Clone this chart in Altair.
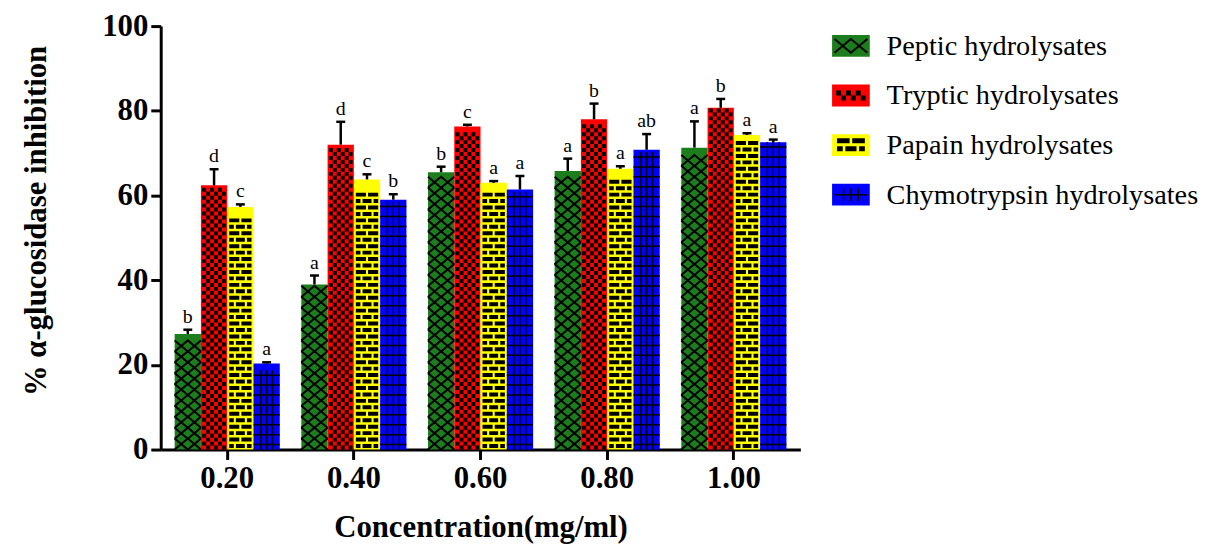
import altair as alt
import pandas as pd

concentrations = ["0.20", "0.40", "0.60", "0.80", "1.00"]
series = ["Peptic hydrolysates", "Tryptic hydrolysates",
          "Papain hydrolysates", "Chymotrypsin hydrolysates"]

peptic = [27.3, 39.0, 65.5, 65.8, 71.3]
peptic_err = [1.0, 2.1, 1.3, 2.9, 6.2]
tryptic = [62.4, 72.0, 76.3, 78.0, 80.7]
tryptic_err = [3.8, 5.4, 0.4, 3.7, 2.1]
papain = [57.3, 63.8, 63.0, 66.3, 74.3]
papain_err = [0.6, 1.2, 0.4, 0.6, 0.4]
chymo = [20.3, 59.0, 61.4, 70.8, 72.6]
chymo_err = [0.3, 1.3, 3.2, 3.7, 0.6]

letters_peptic = ["b", "a", "b", "a", "a"]
letters_tryptic = ["d", "d", "c", "b", "b"]
letters_papain = ["c", "c", "a", "a", "a"]
letters_chymo = ["a", "b", "a", "ab", "a"]

colors = ["#1c7d1c", "#ff0000", "#ffff00", "#0000ff"]

rows = []
for s, vals, errs, lets in zip(
        series,
        [peptic, tryptic, papain, chymo],
        [peptic_err, tryptic_err, papain_err, chymo_err],
        [letters_peptic, letters_tryptic, letters_papain, letters_chymo]):
    for c, v, e, l in zip(concentrations, vals, errs, lets):
        rows.append({"conc": c, "series": s, "value": v, "err": e,
                     "top": v + e, "letter": l})
df = pd.DataFrame(rows)

FONT = "Liberation Serif"
W, H = 645, 427
P_IN, P_OUT = 0.17, 0.11
STEP = W / (len(concentrations) - P_IN + 2 * P_OUT)
BAR = STEP * (1 - P_IN) / len(series)
PX = H / 100.0

PAT = {
    "Peptic hydrolysates": dict(
        path="M-1,-0.42L0,0.42L1,-0.42M-1,0.42L0,-0.42L1,0.42",
        tile=11.0, filled=False, sw=2.0),
    "Tryptic hydrolysates": dict(
        path=("M-0.9,-0.3L-0.6,-0.3L-0.6,0L-0.9,0Z"
              "M-0.3,-0.3L0,-0.3L0,0L-0.3,0Z"
              "M0.3,-0.3L0.6,-0.3L0.6,0L0.3,0Z"
              "M-0.6,0L-0.3,0L-0.3,0.3L-0.6,0.3Z"
              "M0,0L0.3,0L0.3,0.3L0,0.3Z"
              "M0.6,0L0.9,0L0.9,0.3L0.6,0.3Z"),
        tile=8.0, filled=True, sw=0),
    "Papain hydrolysates": dict(
        path=("M-0.85,-0.42L-0.08,-0.42L-0.08,-0.12L-0.85,-0.12Z"
              "M0.08,-0.42L0.85,-0.42L0.85,-0.12L0.08,-0.12Z"
              "M-0.85,0.07L-0.5,0.07L-0.5,0.37L-0.85,0.37Z"
              "M-0.34,0.07L0.34,0.07L0.34,0.37L-0.34,0.37Z"
              "M0.5,0.07L0.85,0.07L0.85,0.37L0.5,0.37Z"),
        tile=13.0, filled=True, sw=0),
    "Chymotrypsin hydrolysates": dict(
        path=("M-1,0L1,0M-0.45,-0.38L-0.45,0.38M0,-0.38L0,0.38"
              "M0.45,-0.38L0.45,0.38"),
        tile=10.0, filled=False, sw=1.5),
}

AX_COMMON = dict(labelFont=FONT, labelFontSize=31, labelFontWeight="bold",
                 labelColor="black", titleFont=FONT, titleFontSize=31,
                 titleFontWeight="bold", titleColor="black",
                 tickSize=10, tickWidth=3, tickColor="black",
                 domainWidth=3, domainColor="black", grid=False)

x_enc = alt.X("conc:N", sort=concentrations,
              scale=alt.Scale(domain=concentrations, paddingInner=P_IN, paddingOuter=P_OUT),
              axis=alt.Axis(title="Concentration(mg/ml)", labelAngle=0,
                            labelPadding=4, titlePadding=20, **AX_COMMON))
xo_enc = alt.XOffset("series:N", sort=series,
                     scale=alt.Scale(domain=series, paddingInner=0, paddingOuter=0))
y_scale = alt.Scale(domain=[0, 100])
y_axis = alt.Axis(title="% α-glucosidase inhibition", values=[0, 20, 40, 60, 80, 100],
                  labelPadding=3, titlePadding=50, titleY=196, **AX_COMMON)


def Y(field):
    return alt.Y(field, scale=y_scale, axis=y_axis, title="% α-glucosidase inhibition")


fill_enc = alt.Color("series:N", scale=alt.Scale(domain=series, range=colors), legend=None)

base = alt.Chart(df)

bars = base.mark_bar().encode(x=x_enc, xOffset=xo_enc, y=Y("value:Q"), color=fill_enc)

layers = [bars]
for s in series:
    p = PAT[s]
    h = p["tile"] / PX
    expr = f"sequence({h/2:.4f}, datum.value - {h/2:.4f} + 0.0001, {h:.4f})"
    mk = dict(shape=p["path"], size=BAR ** 2, opacity=1)
    if p["filled"]:
        mk.update(filled=True, color="black", strokeWidth=0)
    else:
        mk.update(filled=False, color="black", strokeWidth=p["sw"])
    layers.append(
        base.transform_filter(alt.datum.series == s)
        .transform_calculate(t=expr)
        .transform_flatten(["t"])
        .mark_point(**mk)
        .encode(x=x_enc, xOffset=xo_enc, y=Y("t:Q"))
    )

err_rule = base.mark_rule(color="black", strokeWidth=2.5).encode(
    x=x_enc, xOffset=xo_enc, y=Y("value:Q"), y2="top:Q")
err_cap = base.mark_tick(color="black", thickness=2.5, size=9, opacity=1).encode(
    x=x_enc, xOffset=xo_enc, y=Y("top:Q"))
letters = base.mark_text(font=FONT, fontSize=20, baseline="bottom", dy=-3,
                         color="black").encode(
    x=x_enc, xOffset=xo_enc, y=Y("top:Q"), text="letter:N")

layers += [err_rule, err_cap, letters]
NOVIEW = alt.ViewBackground(strokeOpacity=0, strokeWidth=0)
main = alt.layer(*layers).properties(width=W, height=H, view=NOVIEW)

# legend panel
leg_df = pd.DataFrame({"series": series})
lbase = alt.Chart(leg_df)
ly = alt.Y("series:N", sort=series,
           scale=alt.Scale(domain=series, range=[20, 170], padding=0), axis=None)
RECT = "M-1,-0.58L1,-0.58L1,0.58L-1,0.58Z"
leg_layers = [
    lbase.mark_point(shape=RECT, size=38 ** 2, filled=True, opacity=1, strokeWidth=0).encode(
        x=alt.value(31), y=ly,
        color=alt.Color("series:N", scale=alt.Scale(domain=series, range=colors), legend=None))
]
for s in series:
    p = PAT[s]
    mk = dict(shape=p["path"], size=33 ** 2, opacity=1)
    if p["filled"]:
        mk.update(filled=True, color="black", strokeWidth=0)
    else:
        mk.update(filled=False, color="black", strokeWidth=p["sw"])
    leg_layers.append(
        lbase.transform_filter(alt.datum.series == s).mark_point(**mk).encode(
            x=alt.value(31), y=ly))
leg_layers.append(
    lbase.mark_text(font=FONT, fontSize=28.5, align="left", baseline="middle",
                    color="black").encode(x=alt.value(67), y=ly, text="series:N"))
legend = alt.layer(*leg_layers).properties(width=320, height=H, view=NOVIEW)

chart = alt.hconcat(main, legend, spacing=20).properties(
    padding={"left": 12, "top": 0, "right": 0, "bottom": 0}
).configure_view(strokeOpacity=0, strokeWidth=0).configure(font=FONT)

chart.save("out.html", embed_options={"renderer": "svg", "actions": False})
